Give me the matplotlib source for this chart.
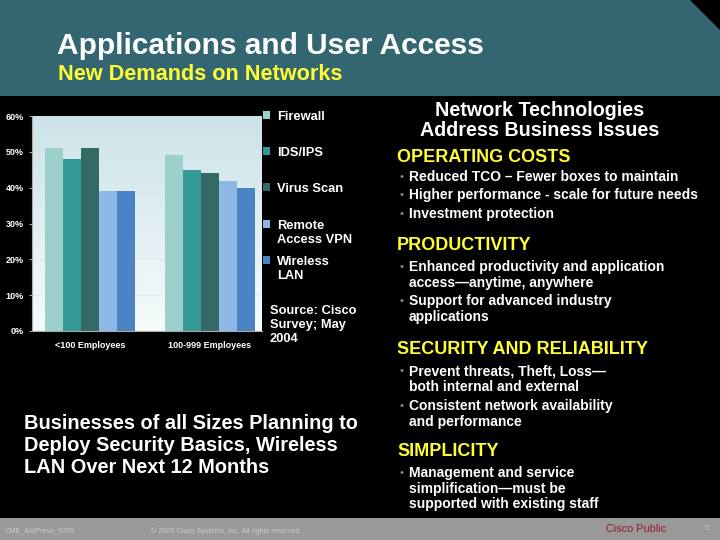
import numpy as np
import matplotlib
matplotlib.use("Agg")
import matplotlib.pyplot as plt
from matplotlib.patches import Polygon, Rectangle

# data
groups = ["<100 Employees", "100-999 Employees"]
series = ["Firewall", "IDS/IPS", "Virus Scan", "Remote\nAccess VPN", "Wireless\nLAN"]
small_biz = [51, 48, 51, 39, 39]
mid_biz = [49, 45, 44, 42, 40]
colors = ["#9dcfcd", "#349a97", "#336a66", "#8db7e4", "#4a84c4"]
yticks = [0, 10, 20, 30, 40, 50, 60]

W, H = 720, 540
plt.rcParams['font.family'] = ['Liberation Sans', 'DejaVu Sans']

fig = plt.figure(figsize=(7.2, 5.4), dpi=100, facecolor="black")

def fx(x):
	return x / W

def fy(y):
	return 1 - y / H

# header band with the cut corner
hdr = [(0, 0), (690, 0), (720, 30), (720, 96), (0, 96)]
fig.patches.append(Polygon([(fx(a), fy(b)) for a, b in hdr], closed=True,
	transform=fig.transFigure, facecolor="#336670", edgecolor="none", zorder=0))
# footer band
fig.patches.append(Rectangle((0, 0), 1, 22 / H, transform=fig.transFigure,
	facecolor="#999999", edgecolor="none", zorder=0))

fig.text(fx(57), fy(46), "Applications and User Access", color="white",
	fontsize=21.5, fontweight="bold", va="center", ha="left")
fig.text(fx(58), fy(74), "New Demands on Networks", color="#ffff33",
	fontsize=15.6, fontweight="bold", va="center", ha="left")

# chart
ax = fig.add_axes([fx(32), fy(331), fx(230), 215 / H])
ax.set_facecolor("none")
grad = np.linspace(0, 1, 256).reshape(-1, 1)
ax.imshow(grad, extent=[0, 1, 0, 1], transform=ax.transAxes, aspect="auto",
	cmap=matplotlib.colors.LinearSegmentedColormap.from_list("bg", ["#f7fbfc", "#cbe3e9"]),
	origin="lower", zorder=0)

x = np.arange(len(groups))
bw = 0.15
for i, name in enumerate(series):
	vals = [small_biz[i], mid_biz[i]]
	ax.bar(x + (i - 2) * bw, vals, width=bw, color=colors[i], zorder=2, linewidth=0)

ax.set_xlim(-0.483, 1.433)
ax.set_ylim(0, 60)
ax.set_yticks(yticks)
ax.set_yticklabels([f"{v}%" for v in yticks], color="white", fontsize=6.5, fontweight="bold")
ax.set_xticks(x)
ax.set_xticklabels(groups, color="white", fontsize=6.5, fontweight="bold")
ax.tick_params(axis="y", length=2, color="#aaaaaa", pad=4)
ax.tick_params(axis="x", length=0, pad=7)
for yv in yticks[1:-1]:
	ax.axhline(yv, color="#dde9ec", linewidth=0.6, zorder=1)
for s in ["top", "right"]:
	ax.spines[s].set_visible(False)
for s in ["left", "bottom"]:
	ax.spines[s].set_color("#aaaaaa")
	ax.spines[s].set_linewidth(0.8)

# legend drawn by hand next to the plot
leg_y = [115, 151, 187, 224, 260]
for yy, name, c in zip(leg_y, series, colors):
	fig.patches.append(Rectangle((fx(263), fy(yy + 4)), fx(7), 8 / H,
		transform=fig.transFigure, facecolor=c, edgecolor="none"))
	fig.text(fx(277), fy(yy - 4), name, color="white", fontsize=9.3, fontweight="bold",
		va="top", ha="left", linespacing=1.22)

fig.text(fx(270), fy(305), "Source: Cisco\nSurvey; May\n2004", color="white",
	fontsize=9.3, fontweight="bold", va="top", ha="left", linespacing=1.25)

fig.text(fx(24), fy(414), "Businesses of all Sizes Planning to\nDeploy Security Basics, Wireless\nLAN Over Next 12 Months",
	color="white", fontsize=14.4, fontweight="bold", va="top", ha="left", linespacing=1.2)

# right column
fig.text(fx(540), fy(110), "Network Technologies", color="white", fontsize=14.2,
	fontweight="bold", ha="center", va="center")
fig.text(fx(540), fy(131), "Address Business Issues", color="white", fontsize=14.2,
	fontweight="bold", ha="center", va="center")

sections = [
	("OPERATING COSTS", 157, [(177, "Reduced TCO \u2013 Fewer boxes to maintain"),
		(195, "Higher performance - scale for future needs"),
		(214, "Investment protection")]),
	("PRODUCTIVITY", 245, [(267, "Enhanced productivity and application\naccess\u2014anytime, anywhere"),
		(301, "Support for advanced industry\napplications")]),
	("SECURITY AND RELIABILITY", 349, [(371, "Prevent threats, Theft, Loss\u2014\nboth internal and external"),
		(406, "Consistent network availability\nand performance")]),
	("SIMPLICITY", 452, [(473, "Management and service\nsimplification\u2014must be\nsupported with existing staff")]),
]
for head, hy, items in sections:
	fig.text(fx(397), fy(hy), head, color="#ffff33", fontsize=13, fontweight="bold",
		ha="left", va="center")
	for by, txt in items:
		fig.text(fx(399), fy(by), "\u2022", color="#888888", fontsize=8, ha="left", va="center")
		fig.text(fx(409), fy(by - 7), txt, color="white", fontsize=10, fontweight="bold",
			ha="left", va="top", linespacing=1.15)

# footer texts
fig.text(fx(5), fy(531), "CME_AMPreso_0705", color="#cccccc", fontsize=5.2, va="center")
fig.text(fx(151), fy(531), "\u00a9 2005 Cisco Systems, Inc. All rights reserved.", color="#cccccc",
	fontsize=5.2, va="center")
fig.text(fx(606), fy(529), "Cisco Public", color="#8e1b2b", fontsize=7.8, va="center")
fig.text(fx(705), fy(529), "5", color="#cccccc", fontsize=5.5, va="center")

fig.savefig("out.png", dpi=100, facecolor="black")
